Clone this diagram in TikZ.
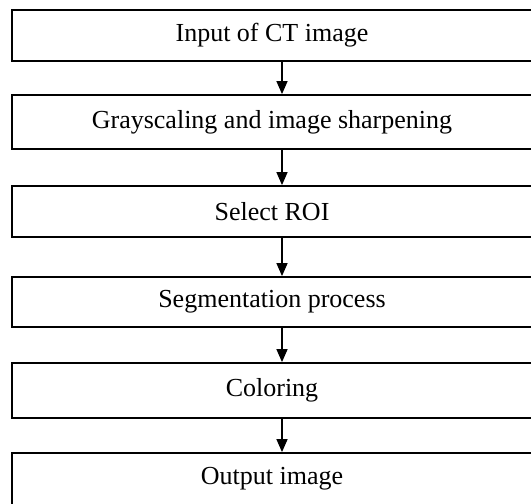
\documentclass[tikz,border=0pt]{standalone}
\usepackage{fontspec}
\setmainfont{Liberation Serif}
\usetikzlibrary{arrows.meta}
\begin{document}
\begin{tikzpicture}[x=1pt,y=-1pt]
    % Stili
    \tikzset{
        stage/.style={rectangle, draw, line width=1.8pt, minimum width=520pt, minimum height=52pt, inner sep=0pt, font=\fontsize{26}{30}\selectfont, text centered},
        flow/.style={-{Triangle[length=13pt,width=11pt]}, line width=1.4pt}
    }
    \useasboundingbox (0,0) rectangle (531,504);
    \clip (0,0) rectangle (531,504);

    % Passi
    \node[stage, minimum height=51pt] (input) at (272,35.5) {Input of CT image};
    \node[stage, minimum height=54pt] (gray) at (272,122) {Grayscaling and image sharpening};
    \node[stage, minimum height=51pt] (roi) at (272,211.5) {Select ROI};
    \node[stage, minimum height=50pt] (seg) at (272,302) {Segmentation process};
    \node[stage, minimum height=55pt] (color) at (272,390.5) {Coloring};
    \node[stage, minimum height=52pt] (output) at (272,479) {Output image};

    % Frecce
    \draw[flow] ([xshift=10pt]input.south) -- ([xshift=10pt]gray.north);
    \draw[flow] ([xshift=10pt]gray.south) -- ([xshift=10pt]roi.north);
    \draw[flow] ([xshift=10pt]roi.south) -- ([xshift=10pt]seg.north);
    \draw[flow] ([xshift=10pt]seg.south) -- ([xshift=10pt]color.north);
    \draw[flow] ([xshift=10pt]color.south) -- ([xshift=10pt]output.north);
\end{tikzpicture}
\end{document}
